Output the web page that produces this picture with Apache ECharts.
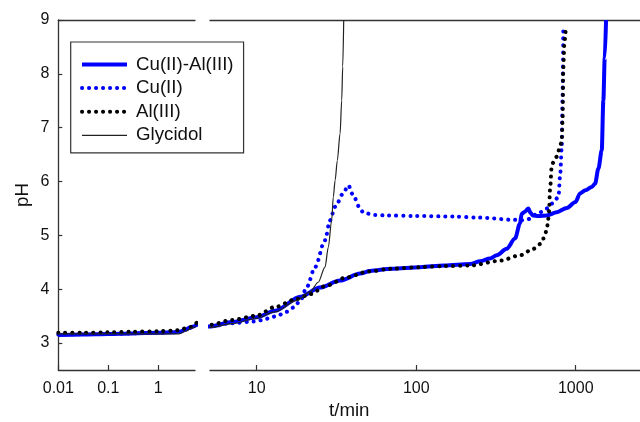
<!DOCTYPE html>
<html>
<head>
<meta charset="utf-8">
<script src="https://cdn.jsdelivr.net/npm/echarts@6/dist/echarts.min.js"></script>
<style>
  html, body { margin: 0; padding: 0; background: #fff; }
  #chart { width: 640px; height: 422px; }
</style>
</head>
<body>
<div id="chart"></div>
<script>
// pH titration curves against time (minutes), plotted on a broken log time axis
const seriesNames = ['Cu(II)-Al(III)', 'Cu(II)', 'Al(III)', 'Glycidol'];

const cuAlTime = [0.01, 0.03, 0.1, 0.3, 1, 2, 2.7, 3.5, 4.3, 5.1, 7, 10, 13, 18.8, 24.9, 33.3, 44.5, 51.3, 70,
  105.7, 150, 218, 252, 290, 320, 369, 416, 447, 458, 480, 505, 520, 540, 583, 658, 760, 879, 996, 1064,
  1150, 1260, 1322, 1387, 1456, 1490, 1520, 1549];
const cuAlPH = [3.15, 3.16, 3.17, 3.18, 3.19, 3.20, 3.21, 3.25, 3.29, 3.31, 3.39, 3.48, 3.6, 3.86, 4.03, 4.16, 4.29, 4.34, 4.38,
  4.41, 4.44, 4.47, 4.52, 4.57, 4.63, 4.75, 4.94, 5.22, 5.40, 5.44, 5.50, 5.42, 5.37, 5.36, 5.37, 5.43, 5.51, 5.62, 5.78,
  5.84, 5.90, 5.96, 6.24, 6.58, 7.51, 8.3, 9.0];

const cuTime = [0.01, 0.1, 1, 2.7, 4, 5.1, 7, 9.6, 11, 12.1, 13.5, 15.4, 17, 18.8, 20.6, 23.2, 26.8, 28.8, 31, 34.9,
  37.5, 40.3, 44.5, 46.6, 55, 65, 100, 171, 250, 406, 450, 500, 597, 658, 708, 740, 779, 800, 817, 826, 836];
const cuPH = [3.16, 3.17, 3.19, 3.21, 3.27, 3.31, 3.37, 3.40, 3.43, 3.47, 3.51, 3.58, 3.66, 3.79, 4.04, 4.41, 4.91, 5.28, 5.53, 5.78,
  5.93, 5.74, 5.50, 5.42, 5.38, 5.37, 5.36, 5.35, 5.33, 5.29, 5.28, 5.30, 5.43, 5.50, 5.59, 5.66, 5.71, 6.15, 6.64, 7.51, 8.9];

const alTime = [0.01, 0.03, 0.1, 0.3, 1, 2, 2.7, 3.6, 4.5, 5.1, 7, 10, 13, 17.8, 21.6, 27.5, 36.6, 50, 70, 105,
  150, 218, 336, 448, 542, 600, 627, 658, 672, 680, 690, 708, 735, 760, 790, 817, 828, 835, 850, 869];
const alPH = [3.19, 3.19, 3.20, 3.21, 3.22, 3.23, 3.24, 3.28, 3.30, 3.34, 3.43, 3.51, 3.67, 3.82, 3.91, 4.07, 4.22, 4.33, 4.38, 4.41,
  4.43, 4.44, 4.53, 4.63, 4.75, 4.84, 4.94, 5.09, 5.30, 5.45, 5.85, 6.30, 6.40, 6.46, 6.60, 6.75, 7.2, 8.1, 8.6, 8.9];

const glyTime = [0.01, 0.1, 1, 2.6, 3.5, 4.5, 5.1, 7, 10, 13, 17.8, 21.6, 24.3, 26.8, 28.1, 29.5, 30.2, 31, 32, 33.3, 34.1, 34.6, 35.1];
const glyPH = [3.17, 3.17, 3.17, 3.17, 3.22, 3.27, 3.29, 3.36, 3.46, 3.58, 3.79, 3.95, 4.13, 4.41, 4.78, 5.28, 5.71, 6.02, 6.39, 6.89, 7.51, 8.13, 9.0];

const leftTicks = [0.01, 0.1, 1];
const rightTicks = [10, 100, 1000];
const pHTicks = [3, 4, 5, 6, 7, 8, 9];

// axis extents in decades (log10 of minutes)
const leftRange = [-2, 0.734];
const rightRange = [0.707, 3.5];
const pHRange = [2.5, 9];

const FONT = '"Liberation Sans", Arial, Helvetica, sans-serif';
const AXIS_COLOR = '#333';
const BLUE = '#0000ff';

const toPoints = (t, p) => t.map((v, i) => [Math.log10(v), p[i]]);
const tickLabel = ticks => v => {
  let best = ticks[0];
  ticks.forEach(t => { if (Math.abs(Math.log10(t) - v) < Math.abs(Math.log10(best) - v)) best = t; });
  return String(best);
};

function bottomAxis(grid, range, ticks) {
  const vals = ticks.map(Math.log10);
  return {
    type: 'value', gridIndex: grid, position: 'bottom', min: range[0], max: range[1],
    axisLine: { show: true, onZero: false, lineStyle: { color: AXIS_COLOR, width: 1.3 } },
    axisTick: { show: true, inside: true, length: 5, customValues: vals, lineStyle: { color: AXIS_COLOR, width: 1.2 } },
    axisLabel: { show: true, customValues: vals, margin: 11, fontSize: 16, color: '#111', fontFamily: FONT, formatter: tickLabel(ticks) },
    splitLine: { show: false }
  };
}
function topAxis(grid, range) {
  return {
    type: 'value', gridIndex: grid, position: 'top', min: range[0], max: range[1],
    axisLine: { show: true, onZero: false, lineStyle: { color: AXIS_COLOR, width: 1.3 } },
    axisTick: { show: false }, axisLabel: { show: false }, splitLine: { show: false }
  };
}

const styles = [
  { color: BLUE, width: 4, type: 'solid' },
  { color: BLUE, width: 4, type: [0.1, 6.9], cap: 'round' },
  { color: '#000', width: 4, type: [0.1, 6.9], cap: 'round' },
  { color: '#222', width: 1.2, type: 'solid' }
];
const datasets = [
  toPoints(cuAlTime, cuAlPH),
  toPoints(cuTime, cuPH),
  toPoints(alTime, alPH),
  toPoints(glyTime, glyPH)
];

const series = [];
[0, 1].forEach(panel => {
  datasets.forEach((data, i) => {
    series.push({
      name: seriesNames[i], type: 'line', data: data,
      xAxisIndex: panel, yAxisIndex: panel,
      symbol: 'none', clip: true, smooth: 0.3, smoothMonotone: 'x',
      lineStyle: Object.assign({ join: 'round' }, styles[i]),
      itemStyle: { color: styles[i].color },
      emphasis: { disabled: true }, animation: false
    });
  });
});

const chart = echarts.init(document.getElementById('chart'), null, { renderer: 'canvas' });
chart.setOption({
  backgroundColor: '#fff',
  animation: false,
  grid: [
    { left: 58.3, top: 20, width: (leftRange[1] - leftRange[0]) * 50, height: 350, containLabel: false, outerBoundsMode: 'none' },
    { left: 210, top: 20, width: (rightRange[1] - rightRange[0]) * 159.5, height: 350, containLabel: false, outerBoundsMode: 'none' }
  ],
  xAxis: [
    bottomAxis(0, leftRange, leftTicks),
    bottomAxis(1, rightRange, rightTicks),
    topAxis(0, leftRange),
    topAxis(1, rightRange)
  ],
  yAxis: [
    {
      type: 'value', gridIndex: 0, min: pHRange[0], max: pHRange[1],
      name: 'pH', nameLocation: 'middle', nameGap: 26, nameRotate: 90,
      nameTextStyle: { fontSize: 18.7, color: '#111', fontFamily: FONT },
      axisLine: { show: true, onZero: false, lineStyle: { color: AXIS_COLOR, width: 1.3 } },
      axisTick: { show: true, inside: true, length: 4, customValues: pHTicks, lineStyle: { color: AXIS_COLOR, width: 1.2 } },
      axisLabel: { show: true, customValues: pHTicks, margin: 9, fontSize: 16, color: '#111', fontFamily: FONT },
      splitLine: { show: false }
    },
    { type: 'value', gridIndex: 1, min: pHRange[0], max: pHRange[1], show: false }
  ],
  legend: {
    data: seriesNames.map((n, i) => ({
      name: n,
      lineStyle: { width: styles[i].width, type: styles[i].type, cap: styles[i].cap || 'butt', color: styles[i].color }
    })),
    orient: 'vertical', left: 70.7, top: 42,
    padding: [13, 10, 8, 9.3],
    itemWidth: 45, itemHeight: 14, itemGap: 4.6,
    borderColor: '#333', borderWidth: 1.2, backgroundColor: '#fff',
    itemStyle: { color: 'rgba(0,0,0,0)', borderWidth: 0, opacity: 0 },
    textStyle: { fontSize: 18.7, color: '#111', fontFamily: FONT, padding: [0, 0, 0, 4] },
    selectedMode: false
  },
  graphic: [
    { type: 'text', left: 329, top: 401, style: { text: 't/min', fontSize: 18.7, fill: '#111', fontFamily: FONT } }
  ],
  series: series
});
</script>
</body>
</html>
